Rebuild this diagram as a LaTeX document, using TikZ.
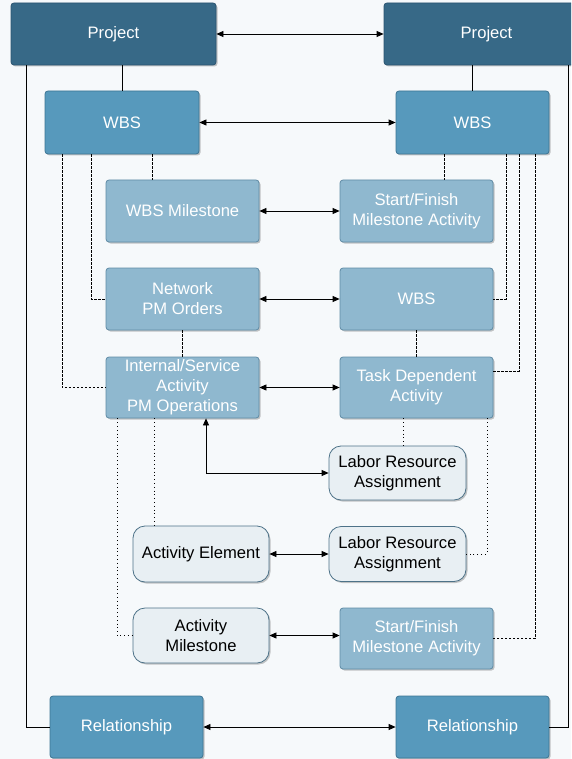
\documentclass[tikz,border=0pt]{standalone}
\usepackage{fontspec}
\setmainfont{Liberation Sans}
\usetikzlibrary{arrows.meta,shadows}
\definecolor{bg}{HTML}{F6F9FB}
\definecolor{darkfill}{HTML}{376987}
\definecolor{darkline}{HTML}{2B5571}
\definecolor{midfill}{HTML}{5799BC}
\definecolor{midline}{HTML}{3D7594}
\definecolor{lightfill}{HTML}{8FB8CF}
\definecolor{lightline}{HTML}{5F8BA5}
\definecolor{palefill}{HTML}{E8EFF3}
\definecolor{paleline}{HTML}{4D7288}
\tikzset{
  base/.style={draw, line width=0.8pt, inner sep=0pt, align=center,
    font=\fontsize{16.6}{20}\selectfont,
    drop shadow={shadow xshift=1.5pt, shadow yshift=-1.5pt, opacity=0.22, fill=black}},
  darkbox/.style={base, rounded corners=3pt, fill=darkfill, draw=darkline, text=white},
  midbox/.style={base, rounded corners=3pt, fill=midfill, draw=midline, text=white},
  lightbox/.style={base, rounded corners=3pt, fill=lightfill, draw=lightline, text=white},
  palebox/.style={base, rounded corners=12pt, fill=palefill, draw=paleline, text=black},
  biarrow/.style={line width=0.8pt, {Triangle[length=7pt,width=6pt]}-{Triangle[length=7pt,width=6pt]}},
  solidline/.style={line width=0.8pt},
  dashline/.style={line width=0.8pt, dash pattern=on 2.5pt off 1.5pt},
  dotline/.style={line width=0.9pt, dash pattern=on 1pt off 2.8pt},
}
\begin{document}
\begin{tikzpicture}[x=1pt,y=-1pt]
\useasboundingbox (0,0) rectangle (571,759);
\fill[bg] (0,0) rectangle (571,759);
\begin{scope}
\clip (0,0) rectangle (571,759);
% nodes
\node[darkbox, minimum width=205pt, minimum height=62pt] (pl) at (113.5,34) {Project};
\node[darkbox, minimum width=205pt, minimum height=62pt] (pr) at (486.5,34) {Project};
\node[midbox, minimum width=154pt, minimum height=63pt] (wl) at (122,122.5) {WBS};
\node[midbox, minimum width=153pt, minimum height=63pt] (wr) at (472.5,122.5) {WBS};
\node[lightbox, minimum width=153pt, minimum height=62pt] (wm) at (182.5,211) {WBS Milestone};
\node[lightbox, minimum width=153pt, minimum height=62pt] (sf1) at (416.5,211) {Start/Finish\\Milestone Activity};
\node[lightbox, minimum width=153pt, minimum height=62pt] (net) at (182.5,299) {Network\\PM Orders};
\node[lightbox, minimum width=153pt, minimum height=62pt] (wr2) at (416.5,299) {WBS};
\node[lightbox, minimum width=153pt, minimum height=61pt] (isa) at (182.5,387.5) {Internal/Service\\Activity\\PM Operations};
\node[lightbox, minimum width=153pt, minimum height=61pt] (tda) at (416.5,387.5) {Task Dependent\\Activity};
\node[palebox, minimum width=137pt, minimum height=54pt] (lr1) at (397.5,473) {Labor Resource\\Assignment};
\node[palebox, minimum width=137pt, minimum height=55pt] (lr2) at (397.5,554) {Labor Resource\\Assignment};
\node[palebox, minimum width=136pt, minimum height=56pt] (ae) at (201,554) {Activity Element};
\node[palebox, minimum width=136pt, minimum height=55pt] (am) at (201,635.5) {Activity\\Milestone};
\node[lightbox, minimum width=153pt, minimum height=61pt] (sf2) at (416.5,638.5) {Start/Finish\\Milestone Activity};
\node[midbox, minimum width=153pt, minimum height=62pt] (rl) at (126.5,727) {Relationship};
\node[midbox, minimum width=153pt, minimum height=62pt] (rr) at (472.5,727) {Relationship};
% solid connectors
\draw[solidline] (wl.north) -- (wl.north |- pl.south);
\draw[solidline] (wr.north) -- (wr.north |- pr.south);
\draw[solidline] ([xshift=16pt]pl.south west) |- (rl.west);
\draw[solidline] ([xshift=-21pt]pr.south east) |- (rr.east);
% arrows
\draw[biarrow] (pl.east) -- (pr.west);
\draw[biarrow] (wl.east) -- (wr.west);
\draw[biarrow] (wm.east) -- (sf1.west);
\draw[biarrow] (net.east) -- (wr2.west);
\draw[biarrow] (isa.east) -- (tda.west);
\draw[biarrow] ([xshift=23.5pt]isa.south) |- (lr1.west);
\draw[biarrow] (ae.east) -- (ae.east -| lr2.west);
\draw[biarrow] (am.east) -- (am.east -| sf2.west);
\draw[biarrow] (rl.east) -- (rr.west);
% dashed connectors
\draw[dashline] ([xshift=30pt]wl.south) -- ([xshift=30pt]wl.south |- wm.north);
\draw[dashline] ([xshift=-31pt]wl.south) |- (net.west);
\draw[dashline] ([xshift=-60pt]wl.south) |- (isa.west);
\draw[dashline] ([xshift=-28.5pt]wr.south) -- ([xshift=-28.5pt]wr.south |- sf1.north);
\draw[dashline] ([xshift=33.5pt]wr.south) |- (wr2.east);
\draw[dashline] ([xshift=46.5pt]wr.south) |- ([yshift=16.5pt]tda.east);
\draw[dashline] ([xshift=62.5pt]wr.south) |- (sf2.east);
\draw[dashline] (net.south) -- (isa.north);
\draw[dashline] (wr2.south) -- (tda.north);
% dotted connectors
\draw[dotline] ([xshift=-28.5pt]isa.south) -- ([xshift=-28.5pt]isa.south |- ae.north);
\draw[dotline] ([xshift=-65.5pt]isa.south) |- (am.west);
\draw[dotline] ([xshift=-13.5pt]tda.south) -- ([xshift=-13.5pt]tda.south |- lr1.north);
\draw[dotline] ([xshift=70.5pt]tda.south) |- (lr2.east);
\end{scope}
\end{tikzpicture}
\end{document}
